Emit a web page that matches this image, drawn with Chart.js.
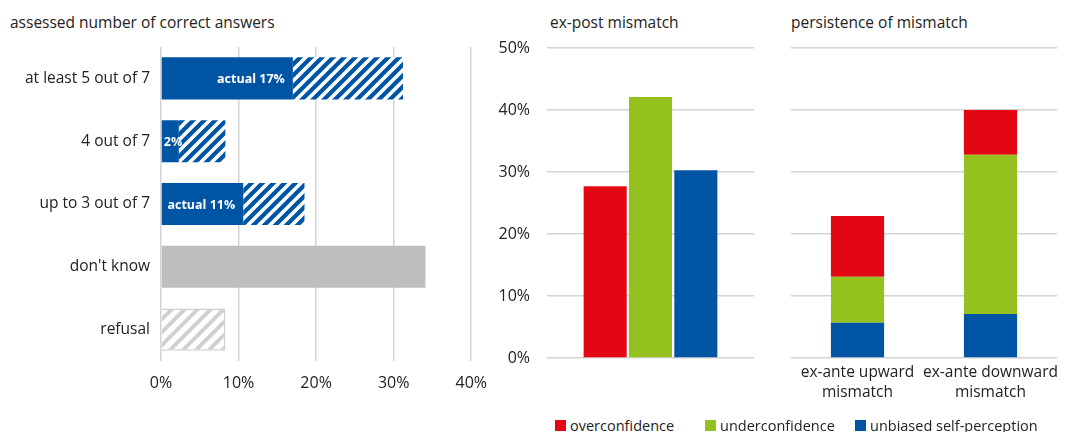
<!DOCTYPE html>
<html>
<head>
<meta charset="utf-8">
<script src="https://cdn.jsdelivr.net/npm/chart.js@4/dist/chart.umd.min.js"></script>
<style>
  html, body { margin: 0; padding: 0; background: #fff; }
  body { width: 1068px; height: 432px; position: relative; overflow: hidden; font-family: "Open Sans", sans-serif; color: #222; }
  .box { position: absolute; }
  .title { position: absolute; font-size: 15.5px; white-space: nowrap; }
  .legend { position: absolute; top: 416px; left: 555px; font-size: 14.5px; white-space: nowrap; }
  .legend span.item { position: absolute; top: 0; }
  .legend i { display: inline-block; width: 11px; height: 11px; margin-right: 4px; vertical-align: 0px; }
</style>
</head>
<body>
<div class="title" style="left:10px; top:11px;">assessed number of correct answers</div>
<div class="title" style="left:550px; top:11px;">ex-post mismatch</div>
<div class="title" style="left:791px; top:11px;">persistence of mismatch</div>

<div class="box" style="left:0; top:0; width:500px; height:410px;"><canvas id="left"></canvas></div>
<div class="box" style="left:490px; top:0; width:280px; height:410px;"><canvas id="mid"></canvas></div>
<div class="box" style="left:780px; top:0; width:288px; height:410px;"><canvas id="right"></canvas></div>

<div class="legend" id="legend"></div>

<script>
// left panel: assessed number of correct answers
const leftCategories = ['at least 5 out of 7', '4 out of 7', 'up to 3 out of 7', "don't know", 'refusal']
const leftActual = [17, 2.3, 10.6, 34.1, 0]
const leftAssessedExtra = [14.2, 6.0, 7.9, 0, 8.3]
const leftBarLabels = ['actual 17%', '2%', 'actual 11%', '', '']

// middle + right panels
const seriesNames = ['overconfidence', 'underconfidence', 'unbiased self-perception']
const expostValues = [27.7, 42.1, 30.3]
const persistCategories = [['ex-ante upward', 'mismatch'], ['ex-ante downward', 'mismatch']]
const persistOver = [9.8, 7.2]
const persistUnder = [7.4, 25.7]
const persistUnbiased = [5.7, 7.1]

const BLUE = '#0054a4'
const RED = '#e30613'
const GREEN = '#95c11f'
const GRAY = '#bebebe'
const GRID = '#d4d4d4'
const FONT = '"Open Sans", sans-serif'
const TEXT = '#222'

Chart.defaults.font.family = FONT
Chart.defaults.color = TEXT
Chart.defaults.animation = false

function makeHatch(bg, stripe, size, lw) {
  const c = document.createElement('canvas')
  c.width = size
  c.height = size
  const g = c.getContext('2d')
  g.fillStyle = bg
  g.fillRect(0, 0, size, size)
  g.strokeStyle = stripe
  g.lineWidth = lw
  g.beginPath()
  g.moveTo(-2, size + 2); g.lineTo(size + 2, -2)
  g.moveTo(-2, 2); g.lineTo(2, -2)
  g.moveTo(size - 2, size + 2); g.lineTo(size + 2, size - 2)
  g.stroke()
  return g.createPattern(c, 'repeat')
}

const blueHatch = makeHatch(BLUE, '#ffffff', 11, 3.6)
const grayHatch = makeHatch('#ffffff', '#d0d0d0', 13, 4)

const pct = v => v + '%'

// white labels inside the solid part of the left bars
const barLabelPlugin = {
  id: 'barLabels',
  afterDatasetsDraw(chart) {
    const ctx = chart.ctx
    const meta = chart.getDatasetMeta(0)
    ctx.save()
    ctx.font = 'bold 12.5px ' + FONT
    ctx.fillStyle = '#fff'
    ctx.textAlign = 'right'
    ctx.textBaseline = 'middle'
    meta.data.forEach((bar, i) => {
      const txt = leftBarLabels[i]
      if (!txt) return
      const w = ctx.measureText(txt).width
      const x = Math.max(bar.x - 8, bar.base + 2 + w)
      ctx.fillText(txt, x, bar.y + 1)
    })
    ctx.restore()
  }
}

new Chart(document.getElementById('left'), {
  type: 'bar',
  data: {
    labels: leftCategories,
    datasets: [{
      label: 'actual',
      data: leftActual,
      backgroundColor: [BLUE, BLUE, BLUE, GRAY, GRAY],
      borderWidth: 0,
      barPercentage: 0.67,
      categoryPercentage: 1
    }, {
      label: 'assessed',
      data: leftAssessedExtra,
      backgroundColor: [blueHatch, blueHatch, blueHatch, GRAY, grayHatch],
      borderColor: ['rgba(0,0,0,0)', 'rgba(0,0,0,0)', 'rgba(0,0,0,0)', 'rgba(0,0,0,0)', '#cfcfcf'],
      borderWidth: [0, 0, 0, 0, 1.5],
      barPercentage: 0.67,
      categoryPercentage: 1
    }]
  },
  options: {
    indexAxis: 'y',
    responsive: true,
    maintainAspectRatio: false,
    layout: { padding: { top: 47, right: 27, left: 0, bottom: 0 } },
    plugins: { legend: { display: false }, tooltip: { enabled: false } },
    scales: {
      x: {
        stacked: true,
        min: 0, max: 40,
        ticks: { stepSize: 10, callback: pct, font: { size: 16 }, color: TEXT, padding: 13 },
        grid: { color: GRID, lineWidth: 1.5, drawTicks: false },
        border: { display: false },
        afterFit(s) { s.height = 49 }
      },
      y: {
        stacked: true,
        ticks: { font: { size: 15.5 }, color: TEXT, padding: 11 },
        grid: { display: false, drawTicks: false },
        border: { display: false },
        afterFit(s) { s.width = 161 }
      }
    }
  },
  plugins: [barLabelPlugin]
})

new Chart(document.getElementById('mid'), {
  type: 'bar',
  data: {
    labels: [''],
    datasets: [
      { label: seriesNames[0], data: [expostValues[0]], backgroundColor: RED },
      { label: seriesNames[1], data: [expostValues[1]], backgroundColor: GREEN },
      { label: seriesNames[2], data: [expostValues[2]], backgroundColor: BLUE }
    ]
  },
  options: {
    responsive: true,
    maintainAspectRatio: false,
    datasets: { bar: { categoryPercentage: 0.657, barPercentage: 0.95 } },
    layout: { padding: { top: 48, right: 16, left: 0, bottom: 0 } },
    plugins: { legend: { display: false }, tooltip: { enabled: false } },
    scales: {
      x: {
        ticks: { display: false },
        grid: { display: false, drawTicks: false },
        border: { display: false },
        afterFit(s) { s.height = 52 }
      },
      y: {
        min: 0, max: 50,
        ticks: { stepSize: 10, callback: pct, font: { size: 16 }, color: TEXT, padding: 17 },
        grid: { color: GRID, lineWidth: 1.5, drawTicks: false },
        border: { display: false },
        afterFit(s) { s.width = 57 }
      }
    }
  }
})

new Chart(document.getElementById('right'), {
  type: 'bar',
  data: {
    labels: persistCategories,
    datasets: [
      { label: seriesNames[2], data: persistUnbiased, backgroundColor: BLUE },
      { label: seriesNames[1], data: persistUnder, backgroundColor: GREEN },
      { label: seriesNames[0], data: persistOver, backgroundColor: RED }
    ]
  },
  options: {
    responsive: true,
    maintainAspectRatio: false,
    datasets: { bar: { categoryPercentage: 1, barPercentage: 0.4 } },
    layout: { padding: { top: 48, right: 11, left: 0, bottom: 0 } },
    plugins: { legend: { display: false }, tooltip: { enabled: false } },
    scales: {
      x: {
        stacked: true,
        ticks: { font: { size: 15.5, lineHeight: 1.33 }, color: TEXT, padding: 4, maxRotation: 0, autoSkip: false },
        grid: { display: false, drawTicks: false },
        border: { display: false },
        afterFit(s) { s.height = 52 }
      },
      y: {
        stacked: true,
        min: 0, max: 50,
        ticks: { display: false, stepSize: 10 },
        grid: { color: GRID, lineWidth: 1.5, drawTicks: false },
        border: { display: false },
        afterFit(s) { s.width = 11 }
      }
    }
  }
})

// legend shared by the two right panels
const legendColors = [RED, GREEN, BLUE]
const legendLefts = [0, 150, 300]
const legend = document.getElementById('legend')
seriesNames.forEach((name, i) => {
  const s = document.createElement('span')
  s.className = 'item'
  s.style.left = legendLefts[i] + 'px'
  s.innerHTML = '<i style="background:' + legendColors[i] + '"></i>' + name
  legend.appendChild(s)
})
</script>
</body>
</html>
